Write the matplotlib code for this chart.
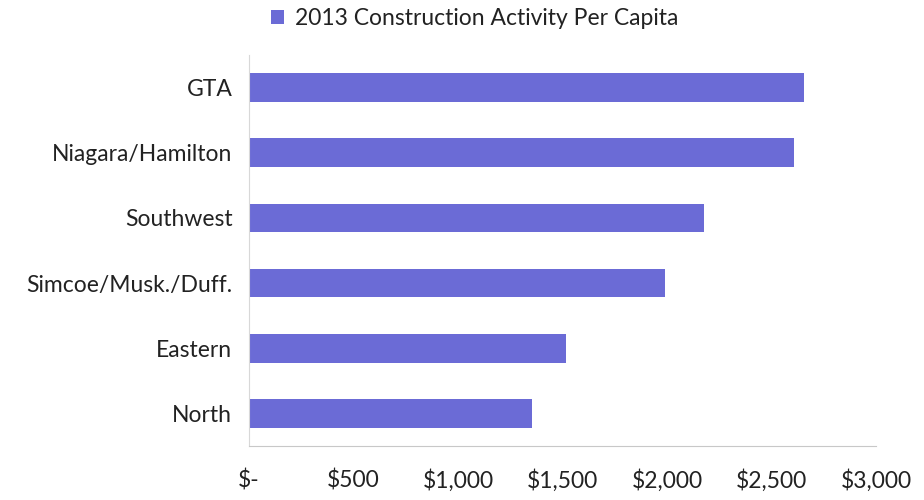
import matplotlib
matplotlib.use('Agg')
import matplotlib.pyplot as plt
from matplotlib.ticker import FuncFormatter

regions = ['GTA', 'Niagara/Hamilton', 'Southwest', 'Simcoe/Musk./Duff.', 'Eastern', 'North']
per_capita = [2652, 2605, 2177, 1987, 1516, 1355]
series_name = '2013 Construction Activity Per Capita'
x_ticks = [0, 500, 1000, 1500, 2000, 2500, 3000]

plt.rcParams['font.family'] = ['Lato', 'DejaVu Sans']

fig = plt.figure(figsize=(9.24, 5.0), dpi=100)
ax = fig.add_axes([0.2695, 0.108, 0.679, 0.782])

ypos = list(range(len(regions)))[::-1]
ax.barh(ypos, per_capita, height=0.44, color='#6b6bd6', label=series_name, zorder=2)

ax.set_xlim(0, 3000)
ax.set_ylim(-0.5, len(regions) - 0.5)
ax.set_yticks(ypos)
ax.set_yticklabels(regions, fontsize=16.5, color='#222222')
ax.set_xticks(x_ticks)


def money(v, pos):
    return '$-' if v == 0 else f'${v:,.0f}'


ax.xaxis.set_major_formatter(FuncFormatter(money))
ax.tick_params(axis='x', labelsize=16.5, colors='#222222', length=0, pad=17)
ax.tick_params(axis='y', length=0, pad=12)

for s in ['top', 'right']:
    ax.spines[s].set_visible(False)
ax.spines['bottom'].set_color('#c8c8c8')
ax.spines['left'].set_color('#d8d8d8')

leg = fig.legend(loc='upper center', bbox_to_anchor=(0.514, 1.025), frameon=False,
                 fontsize=16.5, handlelength=0.55, handleheight=0.55, handletextpad=0.5)
for t in leg.get_texts():
    t.set_color('#222222')

fig.savefig('out.png', dpi=100)
